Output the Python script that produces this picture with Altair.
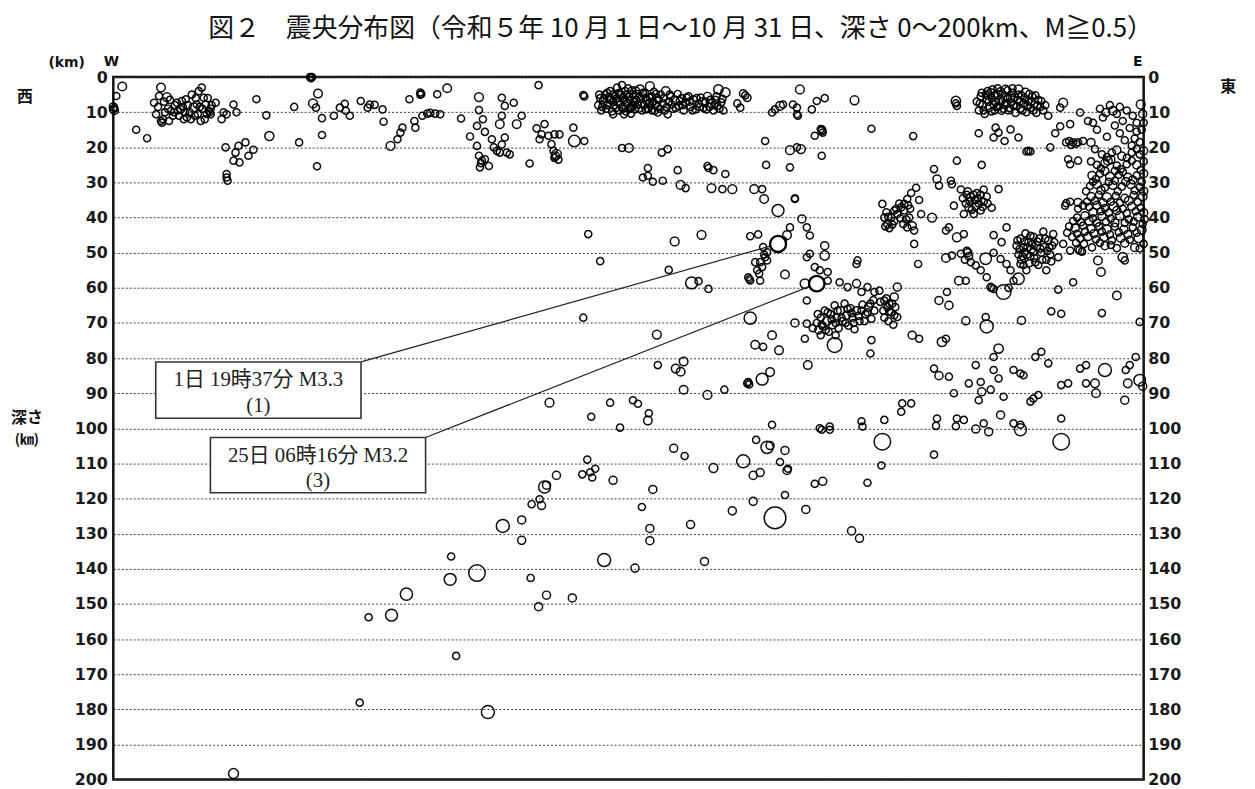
import altair as alt
import pandas as pd

TITLE = "図２　震央分布図（令和５年 10 月１日～10 月 31 日、深さ 0～200km、M≧0.5）"
DEPTH_TICKS = list(range(0, 201, 10))
SIDE_TEXTS = ["西", "東", "深さ", "(㎞)", "(km)", "W", "E"]

# (horizontal distance W->E along the section [0-1037], depth km, magnitude)
west_shallow = [(0,8.5,1.0),(1,9.5,1.0),(0,9.2,0.8),(1,8.8,0.6),(3,5.4,0.6),(9,2.7,1.2),(23,15,0.6),(34,17.4,0.6),
    (41,7.3,0.6),(48,3,1.2),(46,5.4,0.6),(54,5.7,1.3),(43,10.6,0.6),(48,12.5,0.6),(49,13,0.6),(50,12,0.6),
    (58,9.6,0.6),(64,7.3,0.6),(68,9.2,0.6),(73,6.3,0.6),(74,11.5,0.6),(79,5,0.6),(81,8.7,1.5),(86,4,0.6),
    (89,3,0.6),(91,5.9,0.6),(93,7.8,0.6),(88,12.5,0.6),(96,9.6,0.6),(97,10,0.6),(98,9,0.6),(98,10.6,0.6),
    (103,7.3,0.6),(109,12,0.6),(111,10,0.6),(114,10.6,0.6),(121,7.8,0.6),(124,10,0.6),(60,11,0.6),(62,8,0.6),
    (66,11,0.6),(70,8.5,0.6),(77,10,0.6),(83,6,0.6),(85,10.5,0.6),(90,9,0.6),(92,12,0.6),(84,7.8,0.6),
    (71,12,0.6),(52,10,0.6),(56,12.5,0.6),(144,6.3,0.6),(154,10.9,0.6),(157,16.8,1.4),
    (45,8.5,0.6),(51,7,0.6),(55,9,0.6),(57,6.5,0.6),(61,10,0.6),(65,9.5,0.6),(69,6.8,0.6),(72,10,0.6),
    (75,8,0.6),(78,12,0.6),(82,11,0.6),(87,8.5,0.6),(94,10.5,0.6),(95,6,0.6),(99,8,0.6)]

west_mid = [(113,20,0.6),(123,21.5,0.6),(126,19.6,0.6),(133,18.6,0.6),(136,22.4,0.6),(141,20.7,0.6),(121,23.8,0.6),
    (127,24.3,0.6),(114,27.6,0.6),(114,28.6,0.6),(115,29.5,0.6),(182,8.5,0.6),(187,18.6,0.6),(198,0,0.6),
    (199,0.3,0.6),(200,0,0.6),(201,7.5,1.3),(206,4.7,1.2),(204,8.7,0.6),(210,11.7,0.6),(210,16.5,0.6),
    (205,25.4,0.6),(222,11,0.6),(228,8.7,0.6),(233,7.6,0.6),(234,9.6,0.6),(238,11,0.6),(249,6.8,0.6),
    (256,8.7,0.6),(258,7.8,0.6),(263,7.9,0.6),(271,9.2,0.6),(272,12.7,0.6),(279,19.6,1.3),(286,17.7,0.6),
    (289,15.8,0.6),(291,14.4,0.6),(298,6.3,0.6),(303,12.5,0.6),(304,14.4,0.6),(309,4.4,0.6),(310,4.8,0.6),
    (309,5,0.6),(311,11,0.6),(316,10.4,0.6),(319,10.2,0.6),(324,10.4,0.6),(329,10.6,0.6),(326,4.9,0.6),(336,3.2,1.2)]

central_shallow = [(350,11.8,0.6),(368,5.7,1.3),(368,9.4,0.6),(372,12,0.6),(366,13.9,0.6),(374,15.6,0.6),
    (359,16.9,0.6),(366,19.6,0.6),(368,22.4,0.6),(371,23.8,0.6),(369,25.7,0.6),(374,23.4,0.6),(378,25.3,0.6),
    (370,24.5,0.6),(381,17.7,0.6),(383,20,0.6),(386,21,0.6),(389,21.5,0.6),(391,19.2,0.6),(394,17.2,0.6),
    (396,21.5,0.6),(399,22,0.6),(391,5.9,0.6),(394,8.2,0.6),(391,11,0.6),(389,13.4,1.2),(403,7.3,0.6),
    (406,13.4,1.2),(411,11,0.6),(419,24.6,0.6),(428,2.3,0.6),(426,14.6,0.6),(429,17.7,0.6),(434,13.4,0.6),
    (431,16.3,0.6),(438,16.7,0.6),(441,19.1,0.6),(444,16.3,0.6),(449,16.3,0.6),(446,22,1.6),(444,23,0.6),
    (443,21,0.6),(448,23.5,0.6),(445,22.5,1.0),(463,14.4,0.6),(464,18.2,2.2),(474,18.2,0.6),(473,5.1,0.6),(474,5.5,0.6)]

central_cluster = [(488,8,0.6),(490,6,0.6),(491,9.5,0.6),(493,7,1.0),(495,5,0.6),(496,9,0.6),(498,7.5,0.6),
    (500,4,0.6),(501,6.5,1.0),(502,9.8,0.6),(504,8,0.6),(505,5.5,0.6),(507,3,0.6),(508,7,1.2),(509,9.5,0.6),
    (511,5,0.6),(512,2.3,0.6),(512,8.5,0.6),(514,6.5,0.6),(515,4,0.6),(516,9.8,0.6),(518,7.5,1.0),(519,5.5,0.6),
    (521,8.8,0.6),(522,3.8,0.6),(524,6.8,0.6),(525,9.2,0.6),(527,5,1.2),(528,7.8,0.6),(530,3.5,1.2),(531,6.2,0.6),
    (532,9.5,0.6),(534,8,0.6),(535,4.5,0.6),(537,6.8,1.0),(538,9,0.6),(540,2.6,1.3),(540,5.8,0.6),(541,8.2,0.6),
    (543,7,0.6),(544,4.2,0.6),(545,9.6,0.6),(547,6,1.0),(548,8.5,0.6),(551,5,0.6),(553,7.5,0.6),(555,9.5,0.6),
    (556,4,1.2),(559,7,0.6),(561,5.5,0.6),(563,9,0.6),(565,6.5,1.0),(568,4.8,0.6),(569,8.2,0.6),(572,6,0.6),
    (574,9.5,0.6),(576,7.2,0.6),(579,5.5,0.6),(581,8.5,0.6),(584,6.5,1.0),(586,9.2,0.6),(589,7.5,0.6),
    (591,5.8,0.6),(594,8.8,0.6),(596,7,0.6),(598,5.5,1.0),(600,8.5,0.6),(602,7.5,1.2),(604,9.5,0.6),(606,6.5,0.6),
    (608,8.2,0.6),(609,3.5,1.5),(612,7.2,0.6),(614,9.5,0.6),(616,4.4,1.5),(503,10.6,0.6),(514,10.6,0.6),
    (521,10.4,0.6),(548,10.1,0.6),(558,10.6,0.6),(628,7.5,0.6),(631,8.7,0.6),(634,4.7,0.8),(636,5.2,0.6),
    (638,5.9,0.8),(663,10.1,0.6),(666,9.2,0.6),(671,8.2,1.2),(674,7.8,0.6),(684,7.8,0.6),(688,10.6,0.6)]

central_cluster_core = [(489,5,0.6),(492,8.5,0.6),(494,6,0.6),(497,4.5,0.6),(497,8,0.6),(499,6,1.0),(503,7,0.6),
    (503,5,0.6),(506,8.8,0.6),(506,6.2,0.6),(509,4.5,0.6),(510,7.8,0.6),(513,5.8,1.0),(513,9,0.6),(516,7,0.6),
    (517,5,0.6),(518,3.2,0.6),(520,6.5,0.6),(520,9,0.6),(523,5,0.6),(523,8,1.0),(526,6.5,0.6),(526,3.8,0.6),
    (529,9,0.6),(529,5.8,0.6),(532,7.5,0.6),(533,4.5,0.6),(536,5.8,0.6),(536,9.2,0.6),(539,7.5,0.6),
    (542,5.5,0.6),(542,9.5,0.6),(546,7.8,0.6),(546,4.8,0.6),(549,6.5,0.6),(550,9,0.6),(554,6,0.6),(557,8.5,0.6),
    (560,5,0.6),(562,7.8,0.6),(566,8.8,0.6),(570,6.8,0.6),(573,8,0.6),(577,5.8,0.6),(580,7,0.6),(583,9.5,0.6),
    (587,6,0.6),(590,8.5,0.6),(593,7,1.0),(597,9.2,0.6),(601,6.5,0.6),(605,8,0.6),(607,5.5,0.6),(610,9,0.6),
    (613,6.2,0.6)]

central_deep = [(512,20.2,0.6),(519,20.2,1.2),(552,21.5,0.6),(558,20.5,0.6),(656,18.2,0.6),(681,20.8,1.3),
    (688,20,0.6),(657,25,0.6),(681,25.7,0.6),(538,25.9,0.6),(533,28.6,0.6),(538,28.1,0.6),(543,29.8,0.6),
    (553,29.5,0.6),(568,26.5,0.6),(571,30.7,1.3),(576,31.6,0.6),(598,25.3,0.6),(599,25.9,0.6),(604,26.5,0.6),
    (616,27.6,0.6),(602,31.6,1.3),(613,31.9,0.6),(623,31.9,1.3),(645,31.9,1.2),(653,31.9,0.6),(655,34.7,1.2),
    (686,34.5,0.6),(669,38,2.3),(681,42.8,0.6),(678,45,1.2),(674,46.5,0.6),(478,44.7,0.6),(490,52.4,0.6),
    (565,46.8,1.3),(592,44.9,1.3),(641,45.3,0.6),(649,44.8,0.6),(654,48.4,0.6),(658,49.9,0.6),(656,51.3,0.6),
    (651,52.7,0.6),(646,52.7,0.6),(653,54.1,0.6),(658,52.2,0.6),(648,55,0.6),(655,50.5,0.6),(650,56,0.6),
    (639,57,0.6),(641,57.9,0.6),(640,57.5,0.6),(651,58,0.6),(676,56.2,1.2),(559,54.9,0.6),(582,58.6,2.3),
    (589,58.1,0.6),(599,60.3,0.6),(473,68.5,0.6),(547,73.3,1.3),(641,68.6,2.4),(663,73.5,1.2),(686,70,1.0),
    (646,76.2,1.2),(654,76.8,0.6),(670,77.8,1.2),(548,82,0.6),(566,83,1.2),(571,83.9,1.2),(574,81,1.2),
    (638,87.2,0.6),(639,86.8,0.6),(640,87.5,0.6),(653,86,2.3),(661,84,1.2),(574,89,1.2),(598,90.5,1.3),
    (615,89,0.6),(439,92.7,1.3),(500,92.7,0.6),(523,92,0.6),(528,93,0.6),(481,96.7,0.6),(539,95.7,0.6),
    (538,97.8,1.2),(510,99.8,0.6),(663,99,0.6)]

east_shallow = [(691,3.5,1.3),(688,8.7,0.6),(689,11,0.6),(703,9.2,0.6),(708,6.8,0.6),(716,6,0.6),(713,15.3,0.8),
    (712,14.8,0.6),(714,15.8,0.6),(713,15,1.0),(706,16.7,0.6),(713,22.4,0.6),(692,20.5,1.3),(746,6.6,1.3),
    (763,14.7,0.6),(805,16.8,0.6),(848,6.8,1.5),(849,8.2,0.6),(848,7.5,0.6),
    (869,7,0.6),(871,9.5,0.6),(873,5.5,0.6),(875,8,1.0),(877,10.5,0.6),(879,6.5,0.6),(880,4,0.6),(882,8.5,1.2),
    (884,6,0.6),(885,3.5,0.6),(887,9.5,0.6),(888,7,1.0),(890,5,1.3),(891,8.5,0.6),(893,4.2,1.0),(894,6.8,0.6),
    (896,9,0.6),(897,5.5,1.3),(899,7.5,0.6),(900,3.8,0.6),(902,8.8,0.6),(903,6,1.0),(905,4.5,0.6),(906,8,0.6),
    (908,10.2,0.6),(910,6.5,0.6),(911,3.5,1.2),(913,9,0.6),(914,5.2,0.6),(916,7.5,0.6),(918,4.4,1.2),(919,10,0.6),
    (921,6.8,0.6),(923,8.8,0.6),(925,5.5,0.6),(927,7.8,0.6),(929,10.2,0.6),(931,6.5,0.6),(933,8.5,0.6),
    (936,9.5,0.6),(941,11,0.6),(953,8.7,0.6),(956,7.3,1.3),(871,16,0.6),(888,14.4,0.6),(891,15.8,0.6),
    (903,14.9,0.6),(911,17.2,0.6),(897,18.2,0.6),(886,17.2,0.6),(919,21.2,0.6),(923,21.2,0.6),(921,21,0.6),
    (948,16,0.6),(953,14,0.6),(963,13.4,0.6),(973,10.1,0.6),(981,12.5,0.6),(986,13,0.6),(999,10.1,1.0),
    (1006,9.6,1.2),(1016,12.5,0.6),(1026,11,0.6),(1034,7.8,1.3),(993,9,0.6),(996,11.5,0.6),(1003,8,0.6),
    (1010,10.5,0.6),(1013,8.5,0.6),(1020,9.5,0.6),(1030,13,0.6),(1036,10.5,1.0),(1023,14.5,0.6),(1008,13.8,0.6),
    (990,15,0.6),(1000,17,0.6),(1013,16,0.6),(1028,17.5,0.6),(1035,15,0.6),(959,18.6,0.6),(962,18.2,0.6),
    (966,18.6,0.6),(969,19,0.6),(971,18.6,0.6),(976,18.2,0.6),(984,18.6,1.0),(964,19.3,0.6),(943,20,0.6),
    (961,23.4,0.6),(963,24.8,0.6),(971,23.8,0.6),(1001,23.8,1.2),(1008,26.7,0.6),(849,23.8,0.6),(874,25,0.6),
    (1030,15.5,0.6),(1033,18.5,0.6),(1037,13,0.6),(1025,19.5,0.6),(1018,18,0.6)]

east_shallow_core = [(872,7.5,0.6),(874,4.5,0.6),(876,9.5,0.6),(878,5,0.6),(881,7,0.6),(883,4.5,1.0),(884,9.8,0.6),
    (886,7.8,0.6),(887,5.2,0.6),(889,8.5,0.6),(890,3.2,0.6),(892,6.5,1.0),(894,9.6,0.6),(895,4.8,0.6),
    (897,7.8,0.6),(898,3.5,1.0),(900,6,0.6),(901,9.5,0.6),(904,7.2,0.6),(905,3.2,0.6),(907,5.8,1.0),(909,8.2,0.6),
    (911,5,0.6),(912,7,0.6),(915,9.5,0.6),(917,6,0.6),(920,8,0.6),(922,4.8,0.6),(924,7,0.6),(926,9.5,0.6),
    (928,5.2,0.6),(930,8,0.6),(934,6.8,0.6),(938,8,0.6)]

east_mid = [(826,26.2,0.6),(829,29,1.0),(831,30.9,0.6),(843,29.5,0.6),(844,30.5,0.6),
    (853,32,0.6),(859,33.5,0.6),(863,34.2,1.0),(867,35,0.6),(871,36,0.6),(876,35.5,0.6),(876,32,0.6),(879,34,0.6),
    (884,37.2,0.6),(873,38,0.6),(866,39,0.6),(856,39,0.6),(846,36.6,0.6),(861,37,1.0),(869,33,0.6),(858,36,0.6),
    (873,33.5,0.6),(864,37.8,0.6),(891,31.9,0.6),(855,34.5,0.6),(862,35.5,0.6),(868,36.8,0.6),(870,34.5,0.6),
    (875,37,0.6),(860,32.5,0.6),(866,33.5,0.6),(880,36,0.6),
    (808,31.5,0.6),(803,33,0.6),(799,34.7,0.6),(796,36.1,0.6),(793,37.1,0.6),(786,38,0.6),(783,40,0.6),
    (779,41.9,0.6),(776,40,0.6),(774,36.1,0.6),(778,38.5,0.6),(786,41,0.6),(789,39,0.6),(796,38,0.6),(801,40,0.6),
    (804,42.3,1.0),(799,42.8,0.6),(806,43.7,0.6),(813,39,0.6),(824,40,1.3),(781,43,0.6),(791,36,0.6),
    (798,40.5,0.6),(811,35,0.6),(780,39.8,0.6),(784,42,0.6),(788,37.5,0.6),(792,40.2,0.6),(795,41.8,0.6),
    (802,37.5,0.6),(777,42.5,0.6),(800,36.5,0.6),
    (838,43.7,0.6),(841,42.8,0.6),(849,45.6,1.3),(856,44.7,0.6),(806,47.5,0.6),
    (810,53.2,0.6),(899,42.8,0.6),(886,45,0.6),(894,47,0.6),(838,51.5,1.2),(859,49.5,0.8),(861,51,0.8),
    (863,52.7,0.6),(853,50.3,0.6),(860,50,1.0),(857,52,0.6),(878,51.7,2.2),(868,53.6,0.6),(873,55,0.6),
    (879,57,0.6),(851,58,1.2),(858,58,0.6),(844,50.8,0.6)]

east_slab = [(909,48,0.6),(911,50.5,0.6),(913,46,0.6),(914,52,1.0),(916,48.5,0.6),(918,44.5,0.6),(919,50.5,1.0),
    (921,47,0.6),(922,53,0.6),(924,49,1.0),(926,45.5,0.6),(927,51.5,0.6),(929,48,1.2),(931,53.5,0.6),(932,46,0.6),
    (934,50,0.6),(936,44,0.6),(937,48.5,1.0),(939,52,0.6),(941,46.5,0.6),(943,50.5,0.6),(945,48,0.6),
    (946,44.7,0.6),(940,49.5,0.6),(925,47.5,0.6),(917,49.8,0.6),(886,50,0.6),(893,51.8,0.6),(899,53.2,0.6),
    (910,46.5,0.6),(912,49,0.6),(915,51,0.6),(917,46.8,0.6),(920,48.5,0.6),(923,51,0.6),(923,45.2,0.6),
    (926,49.8,0.6),(928,52.8,0.6),(930,46.8,0.6),(933,48.8,0.6),(935,52,0.6),(938,46,0.6),(942,48.5,0.6),
    (944,52.5,0.6),(947,47,0.6),
    (903,55,0.6),(913,53.2,0.6),(919,55,0.6),(916,53.5,0.6),(939,55,0.6),(951,51.3,0.6),(956,47.5,0.6),
    (963,49.4,0.6),(973,49.4,1.0),(971,49,0.6),(975,49.7,0.6),(991,52.2,1.2),(994,55.5,1.2),(1016,51.3,1.5),
    (1018,52.2,0.6),(966,58.4,0.6),(1010,62.2,1.2),(995,67.2,0.6),(1033,69.7,0.6),(951,60.5,0.6),(944,66.7,0.6),
    (954,67.4,0.6),(883,59.8,0.8),(886,60.3,0.6),(884,60,0.6),(896,61.2,3.0),(901,60,0.6),(906,58,0.6),
    (911,57.4,2.2),(914,69.3,1.0),(878,68.3,0.6),(879,71,2.6),(891,77.3,1.5),(886,79.7,0.6),(858,69.4,1.0),
    (831,63.6,1.0),(841,65,1.0),(839,61.2,0.6)]

east_edge = [(995,22,0.6),(1005,21.5,0.6),(1015,22.5,1.0),(1025,21.5,0.6),(1033,22,0.6),
    (990,25,0.6),(998,24.5,1.0),(1010,25.2,0.6),(1020,24.8,0.6),(1030,25,1.0),(1037,24,0.6),
    (985,28,1.0),(993,27.5,0.6),(1003,28.3,1.2),(1012,27.8,0.6),(1021,28.5,1.0),(1030,28,0.6),(1037,27.5,1.0),
    (983,31,0.6),(990,30.5,1.2),(998,31.5,0.6),(1006,30.8,1.0),(1015,31.2,0.6),(1024,30.5,1.2),(1033,31.3,0.6),
    (984,34,1.0),(992,33.5,0.6),(1000,34.2,1.3),(1009,33.8,0.6),(1018,34.5,1.0),(1027,33.6,0.6),(1036,34,1.2),
    (982,37,0.6),(990,36.5,1.0),(998,37.3,0.6),(1007,36.8,1.5),(1016,37.5,0.6),(1025,36.8,1.0),(1034,37.2,0.6),
    (970,40,0.6),(978,39.5,1.0),(986,40.2,0.6),(995,39.6,1.0),(1004,40.3,0.6),(1013,39.5,1.2),(1022,40.5,0.6),
    (1031,39.8,1.0),(1038,40.5,0.6),(962,42.5,0.6),(968,43,1.0),(976,42.3,0.6),(984,43.2,1.0),(992,42.5,0.6),
    (1000,43.3,1.2),(1008,42.6,0.6),(1017,43.4,1.0),(1026,42.8,0.6),(1035,43.5,1.2),(965,45.5,0.6),(973,46,0.6),
    (981,45.4,1.0),(989,46.2,0.6),(997,45.6,1.0),(1005,46.5,0.6),(1014,45.8,1.2),(1023,46.3,0.6),(1032,45.8,1.5),
    (985,48.5,0.6),(998,48,1.0),(1010,48.7,0.6),(1028,48.5,1.0),(1037,47.5,0.6),(958,36.6,0.6),(963,35.5,0.6),
    (971,37.5,0.6),(976,36.6,0.6),(959,35.9,0.6),(971,35.7,1.0)]

east_edge_core = [(988,20.5,0.6),(1000,22.8,0.6),(1010,20.8,1.0),(1020,23,0.6),(1030,20.5,0.6),(1037,21,1.0),
    (984,24,0.6),(994,26,0.6),(1004,23.5,1.0),(1014,26.2,0.6),(1025,23.8,0.6),(1034,26.5,0.6),
    (989,29,0.6),(998,26.8,1.0),(1008,29.5,0.6),(1016,27,0.6),(1026,29.3,1.0),(1035,29.8,0.6),
    (979,32.5,0.6),(986,29.8,0.6),(994,32.2,1.0),(1002,29.8,0.6),(1011,32.5,0.6),(1019,29.8,1.0),(1028,32.3,0.6),
    (1037,32.5,1.0),(980,35.5,0.6),(988,35.2,0.6),(996,35.8,1.0),(1004,35.5,0.6),(1013,35.8,0.6),(1022,35.2,1.2),
    (1031,35.6,0.6),(986,38.5,1.0),(994,38.2,0.6),(1002,38.6,0.6),(1010,38,1.0),(1020,38.8,0.6),(1029,38.2,0.6),
    (1037,38.6,1.0),(966,41,0.6),(974,41.3,0.6),(982,41,1.0),(990,41.5,0.6),(999,41.2,0.6),(1008,41.5,1.0),
    (1018,41.5,0.6),(1027,41.2,0.6),(1036,41.8,0.6),(960,44.3,0.6),(970,44.6,0.6),(978,44,0.6),(987,44.6,1.0),
    (995,44,0.6),(1003,44.8,0.6),(1012,44.2,0.6),(1021,44.8,1.0),(1030,44.3,0.6),(969,47.2,0.6),(977,47.5,0.6),
    (993,47.2,0.6),(1004,47.8,0.6),(1018,47.3,1.0),(1033,48.8,0.6)]

east_wedge = [(686,34.7,0.6),(693,40.4,1.0),(698,42.8,0.6),(701,45.1,0.6),(698,51.3,0.6),(701,50.3,0.6),
    (716,48,1.0),(716,50.8,1.5),(706,54.1,0.6),(711,55,0.6),(719,55.5,0.6),(748,53.2,0.6),(749,52.2,0.6),
    (696,58.8,1.5),(719,58,0.6),(731,58.4,0.6),(739,59.8,0.6),(748,58.8,1.0),(753,61.2,0.6),(759,59.8,0.6),
    (766,61.2,0.6),(771,60.8,0.6),(776,63.6,0.6),(781,64.5,0.6),(786,62.6,1.0),(789,59.8,1.0),
    (708,70,0.6),(710,72,1.0),(712,68.5,0.6),(714,71,0.6),(716,66.5,0.6),(718,69.5,1.2),(720,72.5,0.6),
    (722,67.5,0.6),(724,70.5,1.0),(726,65,0.6),(728,68.5,0.6),(730,71.5,0.6),(732,66.5,1.0),(734,69.5,0.6),
    (736,64.5,0.6),(738,67.8,1.0),(740,70.8,0.6),(742,65.8,0.6),(744,68.5,0.6),(746,71.8,0.6),(748,66.5,1.0),
    (751,69.5,0.6),(754,64.8,0.6),(757,67.5,0.6),(760,65.5,1.0),(763,68.8,0.6),(766,66.5,0.6),(712,73.5,0.6),
    (704,71.5,0.6),(727,73.5,0.6),(709,67.5,0.6),(713,70.5,0.6),(717,72,0.6),(719,67,0.6),(723,69,0.6),
    (727,70,0.6),(729,66.5,0.6),(733,68.5,0.6),(737,70,0.6),(739,66,0.6),(743,67.2,0.6),(745,70,0.6),
    (750,68,0.6),(753,66.5,0.6),(756,69.5,0.6),(759,67,0.6),(762,64.5,0.6),(765,63.5,0.6),(772,64,0.6),
    (775,66.5,0.6),(778,63,0.6),(781,66.8,0.6),(784,64.5,0.6),(787,65.5,0.6),(780,69.5,0.6),(785,70.5,0.6),
    (726,76.3,3.0),(698,63.6,0.6),(698,70.2,0.6),(696,74.5,0.6),(763,74.9,0.6),
    (762,78.7,0.6),(779,65.5,0.6),(786,67.8,0.6),(789,68.3,0.6),(783,67,0.6),(776,68.5,0.6),(804,73.5,1.0),
    (811,74.5,0.6),(834,75.4,1.5),(838,74.5,0.6)]

east_deep = [(699,82,1.2),(826,83,0.6),(831,85,1.0),(841,85.3,0.6),(868,82,0.6),(861,87.2,0.6),(873,86.8,0.6),
    (874,89.6,1.0),(871,92,0.6),(883,89,0.6),(886,83.4,0.6),(891,85.8,0.6),(896,91,0.6),(893,96.2,1.0),
    (906,83.4,0.6),(913,84.4,0.6),(916,84.9,0.6),(928,79.7,0.6),(934,78.2,0.6),(941,81.5,0.6),(923,92.4,0.6),
    (926,91.5,0.6),(931,90.5,0.6),(954,87.7,0.6),(961,87.2,0.6),(973,83,0.6),(979,82,0.6),(998,83.4,2.6),
    (979,87.2,0.6),(988,87.2,1.2),(989,90,1.2),(1019,83.4,0.6),(1023,82,0.6),(1029,79.7,0.6),(1021,87.2,1.2),
    (1033,86.3,2.2),(1018,92,1.0),(1036,88,1.0),(846,90,0.6),(794,92.9,0.6),(803,92.9,0.6),(793,95.3,0.6),
    (829,97.2,0.6),(849,97.2,0.6),(856,97.6,0.6),(876,98.6,0.6),(906,98.6,0.6),(913,99,0.6),(954,97.2,0.6),
    (711,100,0.6),(721,99.5,0.6),(753,98,0.6),(776,97.6,0.6),(713,100.4,0.6),(721,100.4,0.6),(754,99.5,0.6),
    (774,103.8,3.4),(826,107.5,0.6),(828,99.3,0.6),(848,99.4,0.6),(868,100.2,1.0),(881,101,1.0),(913,100.4,2.3),
    (954,103.8,3.4),(773,110.6,0.6),(706,115.8,0.6),(714,115.1,1.0),(759,115.5,0.6),(697,123.1,1.0),
    (743,129.2,1.0),(751,131.3,1.0)]

slab_deep = [(647,103.3,0.6),(658,105.4,2.4),(661,104.9,1.0),(676,106.3,1.0),(671,109.6,0.6),(678,112,1.0),
    (679,111.5,0.6),(634,109.4,2.6),(651,112.6,1.0),(644,113.4,1.0),(604,111.3,1.3),(564,105.7,1.0),
    (575,107.9,0.6),(503,114.8,1.0),(477,108.9,0.6),(472,113.1,0.6),(480,112.5,0.6),(485,111.5,0.6),
    (482,114,0.6),(446,113.4,1.0),(434,116.7,2.3),(436,116.2,1.0),(429,120.2,0.6),(421,121.6,0.6),
    (431,122,1.0),(543,117.4,1.0),(532,122.4,0.6),(676,119,0.6),(644,120.8,1.0),(623,123.5,1.0),
    (666,125.5,4.3),(581,127.4,1.0),(540,128.5,1.0),(540,132,1.0),(392,127.8,2.6),(411,126.1,1.0),
    (411,131.9,1.0),(340,136.5,0.6),(339,143,2.3),(366,141.2,3.4),(420,142.6,0.6),(436,147.5,1.0),
    (428,150.8,1.0),(462,148.3,1.0),(494,137.5,2.6),(525,139.8,1.0),(595,137.9,1.0),(345,164.8,0.6),
    (377,180.8,2.6),(295,147.2,2.4),(280,153.2,2.3),(257,153.8,0.6),(248,178.1,0.6),(121,198.3,1.7)]

# labelled events: (distance, depth, magnitude)
event_1 = (669, 47.5, 3.3)
event_3 = (708, 58.8, 3.2)
event_1_text = ["1日 19時37分 M3.3", "(1)"]
event_3_text = ["25日 06時16分 M3.2", "(3)"]

rows = []
for group in [west_shallow, west_mid, central_shallow, central_cluster, central_cluster_core, central_deep,
              east_shallow, east_shallow_core, east_mid, east_slab, east_edge, east_edge_core, east_wedge,
              east_deep, slab_deep]:
    rows.extend(group)
df = pd.DataFrame(rows, columns=["dist", "depth", "mag"])

W, H = 1037, 707
xs = alt.Scale(domain=[0, 1037], nice=False, zero=False)
ys = alt.Scale(domain=[0, 200], reverse=True, nice=False, zero=False)
SIZE_EXPR = "pow(6*pow(1.35, datum.mag), 2)"
LABEL_FONT = "DejaVu Sans"
CJK = "Noto Sans CJK JP"
BOX_FONT = "Liberation Serif, Noto Sans CJK JP"

left_axis = alt.Axis(orient="left", values=DEPTH_TICKS, grid=True, gridDash=[2, 2], gridColor="#3a3a3a",
                     gridWidth=1, ticks=False, tickSize=0, domain=False, labelFont=LABEL_FONT,
                     labelFontSize=16, labelFontWeight="bold", labelColor="#1a1a1a", labelPadding=6,
                     title=None, labelOverlap=False)
right_axis = alt.Axis(orient="right", values=DEPTH_TICKS, grid=False, ticks=False, tickSize=0, domain=False,
                      labelFont=LABEL_FONT, labelFontSize=16, labelFontWeight="bold", labelColor="#1a1a1a",
                      labelPadding=4, title=None, labelOverlap=False)

points = alt.Chart(df).transform_calculate(sz=SIZE_EXPR).mark_point(
    shape="circle", filled=False, color="#000", strokeWidth=1.5, opacity=0.95
).encode(
    x=alt.X("dist:Q", scale=xs, axis=None),
    y=alt.Y("depth:Q", scale=ys, axis=left_axis),
    size=alt.Size("sz:Q", scale=None, legend=None),
)

right = alt.Chart(df).mark_point(opacity=0).encode(
    x=alt.X("dist:Q", scale=xs, axis=None),
    y=alt.Y("depth:Q", scale=ys, axis=right_axis),
)


def annotation(ev, texts, box, text_x, text_y1, text_y2):
    evdf = pd.DataFrame([ev], columns=["dist", "depth", "mag"])
    bx0, by0, bx1, by1 = box
    line = alt.Chart(evdf).mark_rule(color="#222", strokeWidth=1.2).encode(
        x=alt.X("dist:Q", scale=xs, axis=None),
        y=alt.Y("depth:Q", scale=ys, axis=None),
        x2=alt.value(bx1), y2=alt.value(by0),
    )
    ring = alt.Chart(evdf).transform_calculate(sz=SIZE_EXPR).mark_point(
        shape="circle", filled=False, fill="white", fillOpacity=1, color="#000", strokeWidth=2.4, opacity=1
    ).encode(
        x=alt.X("dist:Q", scale=xs, axis=None),
        y=alt.Y("depth:Q", scale=ys, axis=None),
        size=alt.Size("sz:Q", scale=None, legend=None),
    )
    rect = alt.Chart(alt.Data(values=[{}])).mark_rect(fill="white", stroke="#333", strokeWidth=1.6).encode(
        x=alt.value(bx0), x2=alt.value(bx1), y=alt.value(by0), y2=alt.value(by1)
    )
    t1 = alt.Chart(alt.Data(values=[{}])).mark_text(
        text=texts[0], font=BOX_FONT, fontSize=21, color="#222", align="center", baseline="middle"
    ).encode(x=alt.value(text_x), y=alt.value(text_y1))
    t2 = alt.Chart(alt.Data(values=[{}])).mark_text(
        text=texts[1], font=BOX_FONT, fontSize=21, color="#222", align="center", baseline="middle"
    ).encode(x=alt.value(text_x), y=alt.value(text_y2))
    return [line, ring, rect, t1, t2]


ann1 = annotation(event_1, event_1_text, (42.7, 286.7, 249.3, 343.3), 146, 305, 331.5)
ann3 = annotation(event_3, event_3_text, (97.7, 362.7, 314.3, 418.3), 206, 381, 406.5)


def label(text, x, y, size, weight="normal", font=CJK):
    return alt.Chart(alt.Data(values=[{}])).mark_text(
        text=text, font=font, fontSize=size, fontWeight=weight, color="#111", align="center", baseline="middle"
    ).encode(x=alt.value(x), y=alt.value(y))


title = label(TITLE, 571, -48, 26)
labels = [
    label(SIDE_TEXTS[0], -89, 20, 16, "bold"),
    label(SIDE_TEXTS[1], 1122, 10, 16, "bold"),
    label(SIDE_TEXTS[2], -87, 343, 16, "bold"),
    label(SIDE_TEXTS[3], -87, 365, 14, "bold"),
    label(SIDE_TEXTS[4], -47, -14, 14, "bold", LABEL_FONT),
    label(SIDE_TEXTS[5], -2, -15, 14, "bold", LABEL_FONT),
    label(SIDE_TEXTS[6], 1031, -15, 14, "bold", LABEL_FONT),
]

chart = alt.layer(points, right, *ann1, *ann3, title, *labels).resolve_axis(y="independent").properties(
    width=W, height=H,
    autosize=alt.AutoSizeParams(type="none"),
    padding={"left": 106, "top": 67, "right": 104, "bottom": 10},
    background="white",
).configure_view(stroke="#111", strokeWidth=2.5)

chart.save("out.html", embed_options={"renderer": "svg", "actions": False})
